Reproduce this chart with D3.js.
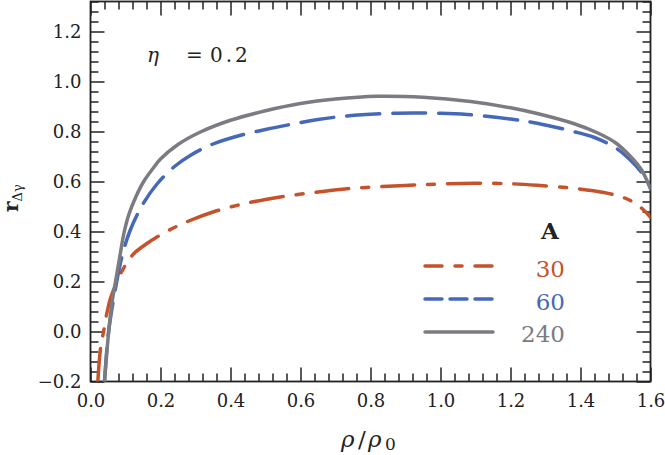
<!DOCTYPE html>
<html><head><meta charset="utf-8">
<script src="https://cdn.jsdelivr.net/npm/d3@7"></script>
<style>
body{margin:0;background:#fff;}
svg{display:block;}
text{font-family:"DejaVu Serif",serif;fill:#222;}
</style></head>
<body><svg id="c" width="665" height="455"></svg>
<script>
// ---- data ----
const rho30 = [0.021,0.029,0.038,0.047,0.057,0.071,0.086,0.105,0.125,0.157,0.19,0.238,0.286,0.35,0.429,0.5,0.552,0.65,0.733,0.85,0.924,1.0,1.095,1.2,1.276,1.38,1.467,1.52,1.55,1.575,1.6];
const val30 = [-0.2,-0.063,0.004,0.075,0.132,0.184,0.231,0.277,0.313,0.348,0.378,0.415,0.445,0.478,0.508,0.528,0.54,0.558,0.571,0.581,0.586,0.59,0.593,0.591,0.585,0.573,0.556,0.537,0.518,0.493,0.457];
const rho60 = [0.04,0.05,0.06,0.075,0.09,0.112,0.15,0.19,0.24,0.286,0.35,0.429,0.5,0.571,0.65,0.733,0.85,0.924,1.0,1.076,1.2,1.276,1.38,1.438,1.5,1.543,1.575,1.6];
const val60 = [-0.2,-0.02,0.08,0.2,0.3,0.4,0.51,0.59,0.66,0.705,0.75,0.785,0.808,0.828,0.848,0.862,0.872,0.874,0.873,0.868,0.85,0.833,0.80,0.777,0.735,0.685,0.635,0.577];
const rho240 = [0.040,0.052,0.062,0.074,0.085,0.095,0.11,0.13,0.152,0.18,0.2,0.25,0.314,0.4,0.5,0.6,0.7,0.819,0.95,1.086,1.2,1.276,1.38,1.448,1.5,1.543,1.575,1.6];
const val240 = [-0.2,0.0,0.12,0.22,0.31,0.39,0.47,0.54,0.60,0.655,0.69,0.748,0.798,0.845,0.883,0.912,0.93,0.941,0.937,0.92,0.895,0.872,0.832,0.795,0.755,0.70,0.645,0.57];
const seriesNames = ["30","60","240"];
const xTicks = [0,0.2,0.4,0.6,0.8,1.0,1.2,1.4,1.6];
const yTicks = [-0.2,0,0.2,0.4,0.6,0.8,1.0,1.2];

const colors = {"30":"#c4532b","60":"#4568b8","240":"#7b7b82"};
const dashPlot = {"30":"33,13,7,13","60":"33,13","240":null};
const dashLeg = {"30":"17,13,7,13","60":"17,8","240":null};

const svg = d3.select("#c");
const x = d3.scaleLinear().domain([0,1.6]).range([90.5,650.5]);
const y = d3.scaleLinear().domain([-0.2,1.32]).range([381.5,1.5]);

svg.append("defs").append("clipPath").attr("id","clip")
  .append("rect").attr("x",90.5).attr("y",1.5).attr("width",560).attr("height",380);

const minorX = d3.range(0,1.6001,0.04).map(v=>+v.toFixed(2)).filter(v=>!xTicks.some(t=>Math.abs(t-v)<1e-6));
const minorY = d3.range(-0.2,1.3201,0.04).map(v=>+v.toFixed(2)).filter(v=>!yTicks.some(t=>Math.abs(t-v)<1e-6));

function styleAxis(g){
  g.select(".domain").remove();
  g.selectAll(".tick line").attr("stroke","#222").attr("stroke-width",1.5);
  g.selectAll("text").style("font-family","'DejaVu Serif',serif").style("font-size","18px").attr("fill","#222");
}
const fmt = d3.format(".1f");
// bottom
svg.append("g").attr("transform","translate(0,381.5)")
  .call(d3.axisBottom(x).tickValues(xTicks).tickSize(-14).tickSizeOuter(0).tickPadding(13).tickFormat(fmt)).call(styleAxis);
svg.append("g").attr("transform","translate(0,381.5)")
  .call(d3.axisBottom(x).tickValues(minorX).tickSize(-8).tickSizeOuter(0).tickFormat("")).call(styleAxis);
// top
svg.append("g").attr("transform","translate(0,1.5)")
  .call(d3.axisTop(x).tickValues(xTicks).tickSize(-14).tickSizeOuter(0).tickFormat("")).call(styleAxis);
svg.append("g").attr("transform","translate(0,1.5)")
  .call(d3.axisTop(x).tickValues(minorX).tickSize(-8).tickSizeOuter(0).tickFormat("")).call(styleAxis);
// left
svg.append("g").attr("transform","translate(90.5,0)")
  .call(d3.axisLeft(y).tickValues(yTicks).tickSize(-14).tickSizeOuter(0).tickPadding(9).tickFormat(fmt)).call(styleAxis);
svg.append("g").attr("transform","translate(90.5,0)")
  .call(d3.axisLeft(y).tickValues(minorY).tickSize(-8).tickSizeOuter(0).tickFormat("")).call(styleAxis);
// right
svg.append("g").attr("transform","translate(650.5,0)")
  .call(d3.axisRight(y).tickValues(yTicks).tickSize(-14).tickSizeOuter(0).tickFormat("")).call(styleAxis);
svg.append("g").attr("transform","translate(650.5,0)")
  .call(d3.axisRight(y).tickValues(minorY).tickSize(-8).tickSizeOuter(0).tickFormat("")).call(styleAxis);

// frame
svg.append("rect").attr("x",90.5).attr("y",1.5).attr("width",560).attr("height",380)
  .attr("fill","none").attr("stroke","#222").attr("stroke-width",1.8);

// curves
const line = d3.line().x(d=>x(d[0])).y(d=>y(d[1])).curve(d3.curveCatmullRom.alpha(0.5));
const data = {"30":d3.zip(rho30,val30),"60":d3.zip(rho60,val60),"240":d3.zip(rho240,val240)};
const cg = svg.append("g").attr("clip-path","url(#clip)");
seriesNames.forEach(s=>{
  const p = cg.append("path").attr("d",line(data[s])).attr("fill","none")
    .attr("stroke",colors[s]).attr("stroke-width",3.5).attr("stroke-linecap","round").attr("stroke-linejoin","round");
  if(dashPlot[s]) p.attr("stroke-dasharray",dashPlot[s]);
});

// eta label
const eta = svg.append("text").attr("y",62).style("font-size","20px");
eta.append("tspan").attr("x",147).style("font-style","italic").text("η");
eta.append("tspan").attr("x",186).text("=");
eta.append("tspan").attr("x",210).style("letter-spacing","3px").text("0.2");

// legend
svg.append("text").attr("x",550).attr("y",239).attr("text-anchor","middle")
  .style("font-size","23px").style("font-weight","bold").text("A");
const legY = {"30":266,"60":299,"240":332};
const legTY = {"30":277,"60":310,"240":342};
seriesNames.forEach(s=>{
  const l = svg.append("line").attr("x1",425).attr("x2",493).attr("y1",legY[s]).attr("y2",legY[s])
    .attr("stroke",colors[s]).attr("stroke-width",3.5).attr("stroke-linecap","round");
  if(dashLeg[s]) l.attr("stroke-dasharray",dashLeg[s]);
  svg.append("text").attr("x",565).attr("y",legTY[s]).attr("text-anchor","end")
    .style("font-size","23px").style("fill",colors[s]).text(s);
});

// axis titles
const xl = svg.append("text").attr("y",447).style("font-size","23px");
xl.append("tspan").attr("x",341).style("font-style","italic").text("ρ");
xl.append("tspan").attr("x",358).text("/");
xl.append("tspan").attr("x",368).style("font-style","italic").text("ρ");
xl.append("tspan").attr("x",385).attr("dy",3).style("font-size","17px").text("0");

const yl = svg.append("text").attr("transform","translate(18,212) rotate(-90)");
yl.append("tspan").style("font-size","20px").style("font-weight","bold").text("r");
yl.append("tspan").attr("dy",4).style("font-size","13px").text("Δγ");
</script></body></html>
